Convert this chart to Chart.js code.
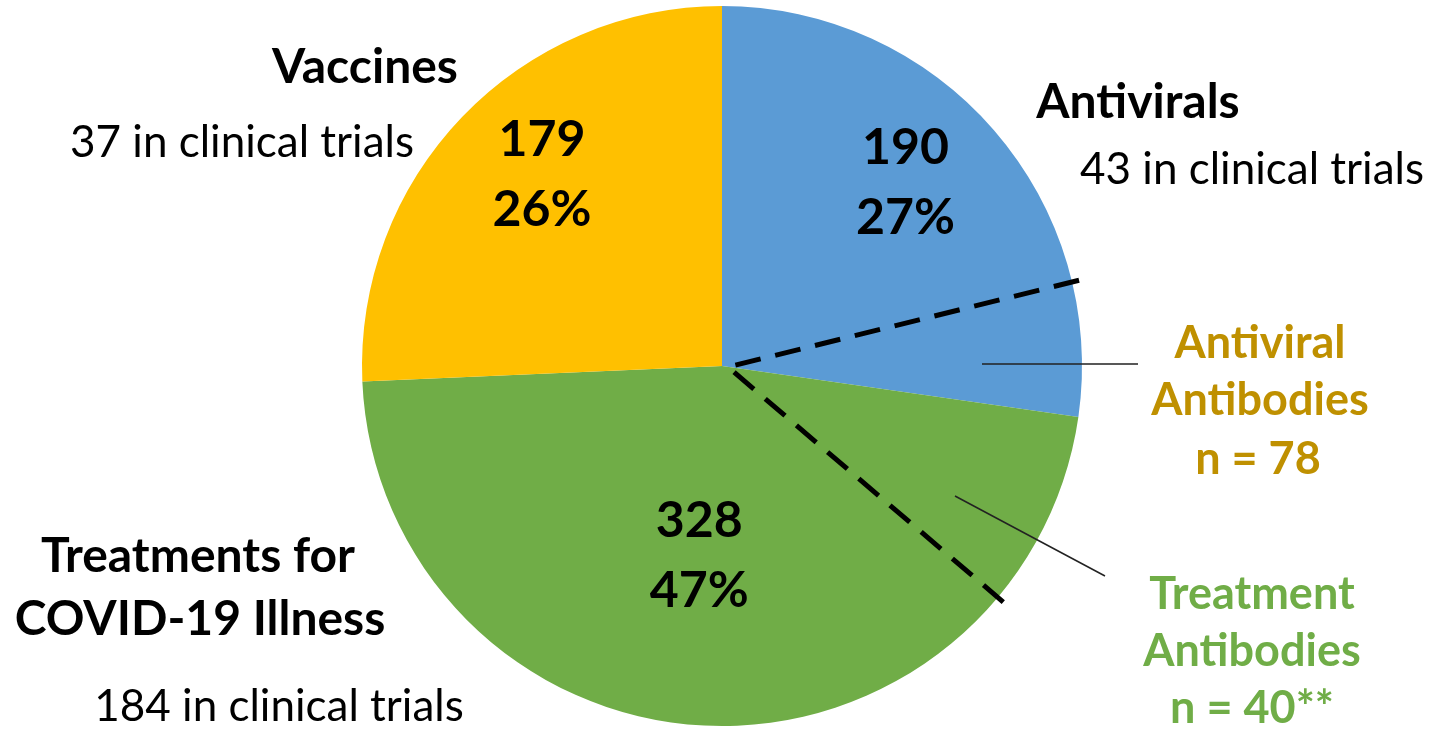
<!DOCTYPE html>
<html>
<head>
<meta charset="utf-8">
<script src="https://cdn.jsdelivr.net/npm/chart.js@4.4.1/dist/chart.umd.min.js"></script>
<style>
  html, body { margin: 0; padding: 0; background: #fff; }
  #wrap { width: 1435px; height: 729px; position: relative; }
</style>
</head>
<body>
<div id="wrap"><canvas id="pieChart"></canvas></div>
<script>
'use strict';

// Data
const categories = ['Antivirals', 'Treatments for COVID-19 Illness', 'Vaccines'];
const counts = [190, 328, 179];
const inTrials = [43, 184, 37];
const sliceColors = ['#5B9BD5', '#70AD47', '#FFC000'];

// Antibody sub-groups (drawn as annotations)
const antiviralAntibodies = 78;
const treatmentAntibodies = '40**';

const FONT = 'Lato, "Liberation Sans", sans-serif';
const total = counts.reduce((a, b) => a + b, 0);

// Label placement inside each slice: [radius fraction, angle shift in degrees]
const innerLabelPlace = [[0.72, -4], [0.53, 4], [0.73, 3]];

function drawText(ctx, text, x, y, size, bold, color) {
    ctx.font = (bold ? 'bold ' : '') + size + 'px ' + FONT;
    ctx.fillStyle = color;
    ctx.textAlign = 'center';
    ctx.textBaseline = 'middle';
    ctx.fillText(text, x, y);
}

const annotations = {
    id: 'annotations',
    afterDraw(chart) {
        const ctx = chart.ctx;
        const meta = chart.getDatasetMeta(0);
        const arc0 = meta.data[0];
        const cx = arc0.x, cy = arc0.y, r = arc0.outerRadius;

        // value + percent inside slices
        meta.data.forEach((arc, i) => {
            const mid = (arc.startAngle + arc.endAngle) / 2 + innerLabelPlace[i][1] * Math.PI / 180;
            const rr = r * innerLabelPlace[i][0];
            const x = cx + Math.cos(mid) * rr;
            const y = cy + Math.sin(mid) * rr;
            const pct = Math.round(counts[i] / total * 100) + '%';
            drawText(ctx, String(counts[i]), x, y - 35, 50, true, '#000');
            drawText(ctx, pct, x, y + 35, 50, true, '#000');
        });

        // dashed lines marking the antibody portions (drawn from the rim inward)
        ctx.save();
        ctx.strokeStyle = '#000';
        ctx.lineWidth = 5;
        ctx.setLineDash([26, 15]);
        [76.5, 130].forEach(deg => {
            const a = (deg - 90) * Math.PI / 180;
            ctx.beginPath();
            ctx.moveTo(cx + Math.cos(a) * r * 1.02, cy + Math.sin(a) * r * 1.02);
            ctx.lineTo(cx + 6, cy + 1);
            ctx.stroke();
        });
        ctx.restore();

        // thin leader lines
        ctx.save();
        ctx.strokeStyle = '#222';
        ctx.lineWidth = 1.5;
        ctx.beginPath();
        ctx.moveTo(982, 364);
        ctx.lineTo(1138, 364);
        ctx.moveTo(955, 496);
        ctx.lineTo(1105, 576);
        ctx.stroke();
        ctx.restore();

        // category titles and trial counts
        drawText(ctx, 'Vaccines', 365, 68, 48, true, '#000');
        drawText(ctx, inTrials[2] + ' in clinical trials', 242, 143, 44, false, '#000');
        drawText(ctx, 'Antivirals', 1138, 103, 48, true, '#000');
        drawText(ctx, inTrials[0] + ' in clinical trials', 1252, 170, 44, false, '#000');
        drawText(ctx, 'Treatments for', 198, 557, 48, true, '#000');
        drawText(ctx, 'COVID-19 Illness', 200, 620, 48, true, '#000');
        drawText(ctx, inTrials[1] + ' in clinical trials', 279, 707, 44, false, '#000');

        // antibody labels
        const gold = '#BF9000';
        drawText(ctx, 'Antiviral', 1260, 343, 45, true, gold);
        drawText(ctx, 'Antibodies', 1260, 400, 45, true, gold);
        drawText(ctx, 'n = ' + antiviralAntibodies, 1258, 459, 45, true, gold);
        const green = '#70AD47';
        drawText(ctx, 'Treatment', 1252, 594, 45, true, green);
        drawText(ctx, 'Antibodies', 1252, 651, 45, true, green);
        drawText(ctx, 'n = ' + treatmentAntibodies, 1252, 708, 45, true, green);
    }
};

const ctx = document.getElementById('pieChart').getContext('2d');
const pieChart = new Chart(ctx, {
    type: 'pie',
    data: {
        labels: categories,
        datasets: [{
            data: counts,
            backgroundColor: sliceColors,
            borderWidth: 0,
            hoverOffset: 0
        }]
    },
    options: {
        responsive: true,
        maintainAspectRatio: false,
        animation: false,
        layout: { padding: { top: 6, bottom: 3, left: 9, right: 0 } },
        plugins: {
            legend: { display: false },
            tooltip: { enabled: false }
        }
    },
    plugins: [annotations]
});
</script>
</body>
</html>
